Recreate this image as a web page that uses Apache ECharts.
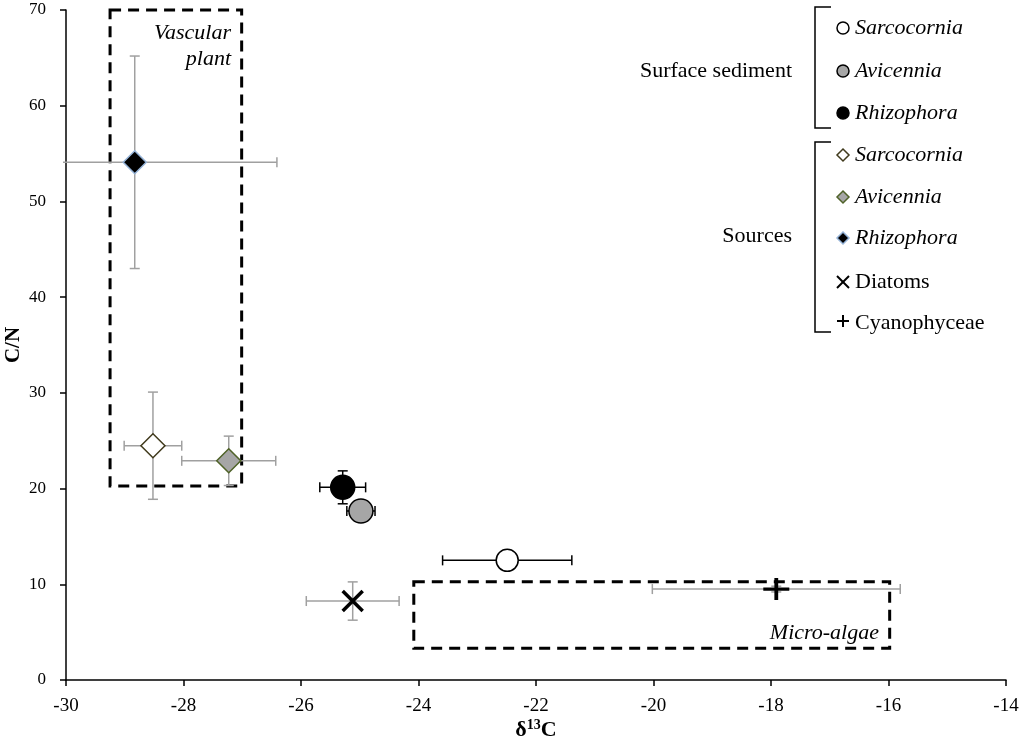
<!DOCTYPE html>
<html><head><meta charset="utf-8">
<script src="https://cdn.jsdelivr.net/npm/echarts@6/dist/echarts.min.js"></script>
<style>html,body{margin:0;padding:0;background:#fff}#chart{width:1024px;height:748px}</style>
</head><body><div id="chart"></div>
<script>
// ---- data ----
const sedimentNames = ['Sarcocornia', 'Avicennia', 'Rhizophora'];
const sedimentD13C = [-22.49, -24.98, -25.29];
const sedimentCN = [12.5, 17.66, 20.13];
const sedimentD13CErr = [1.1, 0.24, 0.39];
const sedimentCNErr = [0.5, 0.6, 1.72];

const sourceNames = ['Sarcocornia', 'Avicennia', 'Rhizophora', 'Diatoms', 'Cyanophyceae'];
const sourceD13C = [-28.52, -27.23, -28.83, -25.12, -17.91];
const sourceCN = [24.48, 22.9, 54.09, 8.25, 9.5];
const sourceD13CErr = [0.49, 0.8, 2.42, 0.79, 2.11];
const sourceCNErr = [5.6, 2.58, 11.1, 2.0, 0.3];

const boxNames = ['Vascular plant', 'Micro-algae'];
const boxD13CFrom = [-29.25, -24.08];
const boxD13CTo = [-27.01, -15.98];
const boxCNFrom = [20.27, 3.31];
const boxCNTo = [70, 10.27];

const xMin = -30, xMax = -14, xStep = 2;
const yMin = 0, yMax = 70, yStep = 10;

// ---- styles ----
const SERIF = 'Liberation Serif';
const sedimentStyle = {
  Sarcocornia: {symbol: 'circle', size: 22, fill: '#ffffff', border: '#000000', bw: 1.5},
  Avicennia: {symbol: 'circle', size: 24, fill: '#a6a6a6', border: '#000000', bw: 1.5},
  Rhizophora: {symbol: 'circle', size: 24, fill: '#000000', border: '#000000', bw: 1.5}
};
const CROSS = 'path://M0,0L10,10M10,0L0,10';
const PLUS = 'path://M0,5L10,5M5,0L5,10';
const sourceStyle = {
  Sarcocornia: {symbol: 'diamond', size: 24, fill: '#ffffff', border: '#403a1c', bw: 1.5},
  Avicennia: {symbol: 'diamond', size: 24, fill: '#a6a6a6', border: '#4f6228', bw: 1.5},
  Rhizophora: {symbol: 'diamond', size: 23, fill: '#000000', border: '#95b3d7', bw: 1.5},
  Diatoms: {symbol: CROSS, size: 20, fill: '#000000', border: '#000000', bw: 3.5},
  Cyanophyceae: {symbol: PLUS, size: [26, 22], fill: '#000000', border: '#000000', bw: 3.5}
};

function errorBars(names, xs, ys, exs, eys, color, z) {
  return {
    type: 'custom', z: z, silent: true,
    encode: {x: 0, y: 1},
    data: names.map((n, i) => [xs[i], ys[i], exs[i], eys[i]]),
    renderItem: function (params, api) {
      const x = api.value(0), y = api.value(1), ex = api.value(2), ey = api.value(3);
      const L = api.coord([x - ex, y]), R = api.coord([x + ex, y]);
      const T = api.coord([x, y + ey]), B = api.coord([x, y - ey]);
      const cap = 5;
      const style = {stroke: color, lineWidth: 1.5, fill: null};
      const ln = (x1, y1, x2, y2) => ({type: 'line', shape: {x1, y1, x2, y2}, style});
      const cs = params.coordSys;
      return {
        type: 'group',
        clipPath: {type: 'rect', shape: {x: cs.x - 3, y: cs.y, width: cs.width + 3, height: cs.height}},
        children: [
          ln(L[0], L[1], R[0], R[1]),
          ln(L[0], L[1] - cap, L[0], L[1] + cap),
          ln(R[0], R[1] - cap, R[0], R[1] + cap),
          ln(T[0], T[1], B[0], B[1]),
          ln(T[0] - cap, T[1], T[0] + cap, T[1]),
          ln(B[0] - cap, B[1], B[0] + cap, B[1])
        ]
      };
    }
  };
}

const series = [];
// dashed boxes
series.push({
  type: 'custom', z: 1, silent: true,
  encode: {x: [0, 1], y: [2, 3]},
  data: boxNames.map((n, i) => [boxD13CFrom[i], boxD13CTo[i], boxCNFrom[i], boxCNTo[i]]),
  renderItem: function (params, api) {
    const p1 = api.coord([api.value(0), api.value(3)]);
    const p2 = api.coord([api.value(1), api.value(2)]);
    return {
      type: 'rect',
      shape: {x: p1[0], y: p1[1], width: p2[0] - p1[0], height: p2[1] - p1[1]},
      style: {fill: null, stroke: '#000', lineWidth: 3, lineDash: [11, 7]}
    };
  }
});
series.push(errorBars(sourceNames, sourceD13C, sourceCN, sourceD13CErr, sourceCNErr, '#a0a0a0', 2));
series.push(errorBars(sedimentNames, sedimentD13C, sedimentCN, sedimentD13CErr, sedimentCNErr, '#000000', 3));

sourceNames.forEach((n, i) => {
  const s = sourceStyle[n];
  series.push({
    type: 'scatter', name: 'Sources ' + n, z: 4,
    symbol: s.symbol, symbolSize: s.size,
    itemStyle: {color: s.fill, borderColor: s.border, borderWidth: s.bw, opacity: 1},
    data: [[sourceD13C[i], sourceCN[i]]]
  });
});
// draw order so grey circle lies over black
['Rhizophora', 'Avicennia', 'Sarcocornia'].forEach(n => {
  const i = sedimentNames.indexOf(n);
  const s = sedimentStyle[n];
  series.push({
    type: 'scatter', name: 'Sediment ' + n, z: 5,
    symbol: s.symbol, symbolSize: s.size,
    itemStyle: {color: s.fill, borderColor: s.border, borderWidth: s.bw, opacity: 1},
    data: [[sedimentD13C[i], sedimentCN[i]]]
  });
});

// ---- legend graphics ----
const legendX = 843, textX = 855;
const legendRowsY = [28, 71, 113, 155, 197, 238, 282, 323];
const legendItems = sedimentNames.map(n => ({group: 'sed', name: n}))
  .concat(sourceNames.map(n => ({group: 'src', name: n})));
const graphics = [];
const LFONT = '22px "' + SERIF + '"';
legendItems.forEach((it, k) => {
  const cy = legendRowsY[k];
  const st = it.group === 'sed' ? sedimentStyle[it.name] : sourceStyle[it.name];
  if (st.symbol === 'circle') {
    graphics.push({type: 'circle', shape: {cx: legendX, cy: cy, r: 6}, style: {fill: st.fill, stroke: st.border, lineWidth: 1.5}});
  } else if (st.symbol === 'diamond') {
    graphics.push({type: 'polygon', shape: {points: [[legendX, cy - 6], [legendX + 6, cy], [legendX, cy + 6], [legendX - 6, cy]]}, style: {fill: st.fill, stroke: st.border, lineWidth: 1.5}});
  } else if (st.symbol === CROSS) {
    graphics.push({type: 'polyline', shape: {points: [[legendX - 6, cy - 6], [legendX + 6, cy + 6]]}, style: {stroke: '#000', lineWidth: 2}});
    graphics.push({type: 'polyline', shape: {points: [[legendX + 6, cy - 6], [legendX - 6, cy + 6]]}, style: {stroke: '#000', lineWidth: 2}});
  } else {
    graphics.push({type: 'polyline', shape: {points: [[legendX - 6, cy - 2], [legendX + 6, cy - 2]]}, style: {stroke: '#000', lineWidth: 2}});
    graphics.push({type: 'polyline', shape: {points: [[legendX, cy - 8], [legendX, cy + 4]]}, style: {stroke: '#000', lineWidth: 2}});
  }
  const italic = !(it.name === 'Diatoms' || it.name === 'Cyanophyceae');
  graphics.push({type: 'text', x: textX, y: cy, style: {text: it.name, fill: '#000', font: (italic ? 'italic ' : '') + LFONT, verticalAlign: 'middle', align: 'left'}});
});
// brackets
graphics.push({type: 'polyline', shape: {points: [[831, 7], [815, 7], [815, 128], [831, 128]]}, style: {stroke: '#000', lineWidth: 1.5, fill: null}});
graphics.push({type: 'polyline', shape: {points: [[831, 142], [815, 142], [815, 332], [831, 332]]}, style: {stroke: '#000', lineWidth: 1.5, fill: null}});
graphics.push({type: 'text', x: 792, y: 71, style: {text: 'Surface sediment', fill: '#000', font: LFONT, align: 'right', verticalAlign: 'middle'}});
graphics.push({type: 'text', x: 792, y: 236, style: {text: 'Sources', fill: '#000', font: LFONT, align: 'right', verticalAlign: 'middle'}});
// box captions
graphics.push({type: 'text', x: 231, y: 46, style: {text: 'Vascular\nplant', fill: '#000', font: 'italic ' + LFONT, align: 'right', verticalAlign: 'middle', lineHeight: 26}, z: 10});
graphics.push({type: 'text', x: 879, y: 633, style: {text: 'Micro-algae', fill: '#000', font: 'italic ' + LFONT, align: 'right', verticalAlign: 'middle'}, z: 10});

const chart = echarts.init(document.getElementById('chart'), null, {renderer: 'canvas'});
chart.setOption({
  backgroundColor: '#ffffff',
  animation: false,
  grid: {left: 66, right: 18, top: 10, bottom: 68, containLabel: false, outerBoundsMode: 'none'},
  xAxis: {
    type: 'value', min: xMin, max: xMax, interval: xStep,
    axisLine: {onZero: false, lineStyle: {color: '#000', width: 1.5}},
    axisTick: {show: true, inside: false, length: 6, lineStyle: {color: '#000', width: 1.5}},
    splitLine: {show: false},
    axisLabel: {color: '#000', fontFamily: SERIF, fontSize: 19, margin: 17},
    name: '{b|δ}{s|13}{b|C}', nameLocation: 'middle', nameGap: 38, nameMoveOverlap: false,
    nameTextStyle: {
      rich: {
        b: {fontFamily: SERIF, fontSize: 22, fontWeight: 'bold', color: '#000', lineHeight: 24},
        s: {fontFamily: SERIF, fontSize: 14, fontWeight: 'bold', color: '#000', verticalAlign: 'top', lineHeight: 24, padding: [0, 0, 6, 0]}
      }
    }
  },
  yAxis: {
    type: 'value', min: yMin, max: yMax, interval: yStep,
    axisLine: {onZero: false, lineStyle: {color: '#000', width: 1.5}},
    axisTick: {show: true, inside: false, length: 6, lineStyle: {color: '#000', width: 1.5}},
    splitLine: {show: false},
    axisLabel: {color: '#000', fontFamily: SERIF, fontSize: 17, margin: 20},
    name: 'C/N', nameLocation: 'middle', nameGap: 42, nameRotate: 90, nameMoveOverlap: false,
    nameTextStyle: {fontFamily: SERIF, fontSize: 21, fontWeight: 'bold', color: '#000'}
  },
  graphic: graphics,
  series: series
});
</script></body></html>
